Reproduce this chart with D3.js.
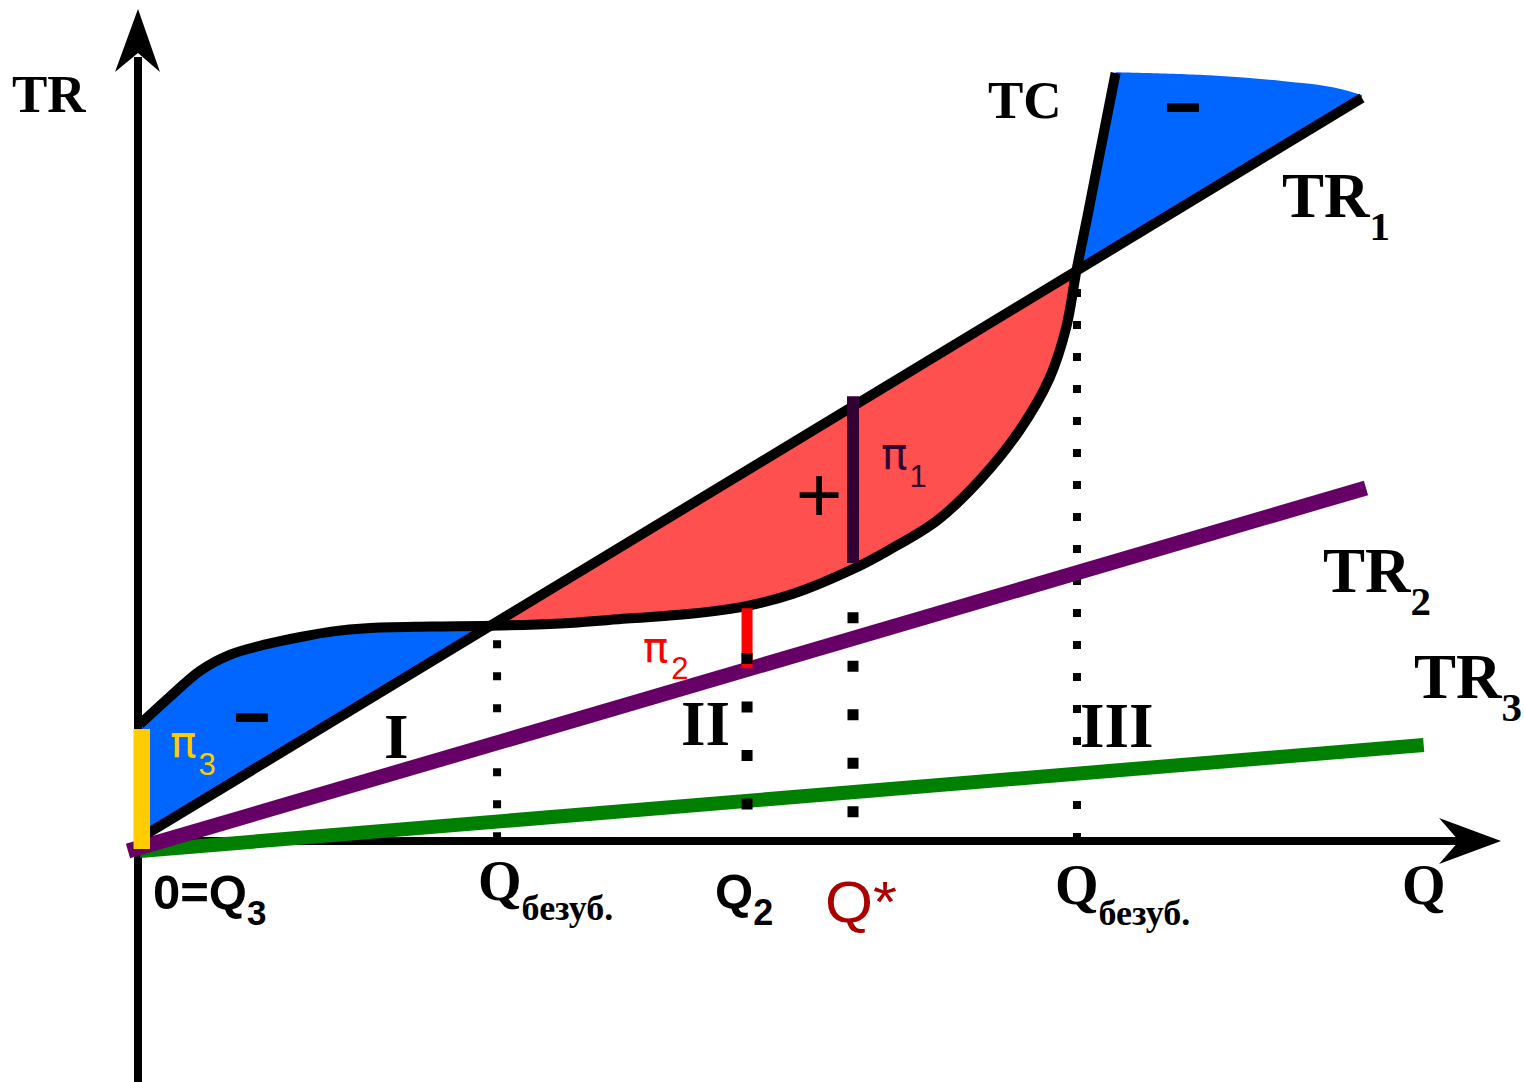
<!DOCTYPE html>
<html>
<head>
<meta charset="utf-8">
<script src="https://cdn.jsdelivr.net/npm/d3@7"></script>
<style>
  html, body { margin: 0; padding: 0; background: #fff; }
  svg { display: block; }
</style>
</head>
<body>
<svg id="chart" width="1524" height="1082"></svg>
<script>
// ---------------- DATA (chart units: Q along x, money along y) ----------------
// Total cost curve TC
const tcCurve = [
  [0.15,14.6],[2.5,18.1],[4.8,21.3],[7.1,23.3],[9.9,24.6],[12.5,25.5],[15.0,26.2],
  [17.6,26.6],[22.5,26.8],[27.1,26.9],[32.5,27.2],[37.6,27.8],[42.5,28.4],[46.9,29.4],
  [50.4,30.9],[55.0,34.0],[57.8,36.4],[61.5,40.1],[64.8,45.2],[67.8,51.3],[70.1,57.8],
  [71.4,64.2],[72.2,71.4],[73.0,77.8],[73.9,85.3],[75.2,96.0]
];
// upper edge of the right loss region (after TC ends)
const lossTopEdge = [[75.2,96.1],[82.7,95.7],[88.0,95.0],[92.0,94.2],[94.15,93.25]];
// revenue lines (two end points each)
const tr1 = [[0.54,0.75],[94.15,92.88]];
const tr2 = [[-0.77,-1.25],[94.46,44.13]];
const tr3 = [[0.15,-1.25],[98.9,12.0]];
// TC / TR1 crossings (break-even points)
const crossQ = [27.1, 72.2];
// dotted guide lines: Q position and top value
const guideQ   = [27.62, 46.85, 55.0, 72.23];
const guideTop = [25.1, 23.5, 28.6, 69.0];
const guideKind = ["fine", "coarse", "coarse", "fine"];
// profit / loss bars
const barNames = ["π1", "π2", "π3"];
const barQ     = [55.0, 46.85, 0.29];
const barFrom  = [34.75, 21.6, -1.0];
const barTo    = [55.6, 29.1, 14.0];
// text
const axisTitles = ["TR", "Q"];
const curveNames = ["TC", "TR", "TR", "TR"];
const curveSubs  = ["", "1", "2", "3"];
const zoneNames  = ["I", "II", "III"];
const qTickMain  = ["0=Q", "Q", "Q", "Q*", "Q"];
const qTickSub   = ["3", "безуб.", "2", "", "безуб."];
const signs      = ["-", "+", "-"];

// ---------------- SETUP ----------------
const svg = d3.select("#chart");
const x = d3.scaleLinear().domain([0, 100]).range([138, 1438]);
const y = d3.scaleLinear().domain([0, 100]).range([841, 41]);

const BLUE = "#0066ff", RED = "#ff5050", PURPLE = "#660066", GREEN = "#008000",
      GOLD = "#ffcc00", DARK = "#330033", QSTAR = "#aa0000";
const SERIF = "'Liberation Serif','Times New Roman',serif";
const SANS  = "'Liberation Sans',Arial,sans-serif";
const GREEK = "'DejaVu Sans','Liberation Sans',sans-serif";

const tr1At = q => tr1[0][1] + (q - tr1[0][0]) * (tr1[1][1] - tr1[0][1]) / (tr1[1][0] - tr1[0][0]);

const curve = d3.curveCatmullRom.alpha(0.5);
const straight = d3.line().x(d => x(d[0])).y(d => y(d[1]));
const smooth = d3.line().x(d => x(d[0])).y(d => y(d[1])).curve(curve);
const between = d3.area().x(d => x(d[0])).y0(d => y(tr1At(d[0]))).y1(d => y(d[1])).curve(curve);

// ---------------- FILLS ----------------
const defs = svg.append("defs");
function clipRect(id, q0, q1) {
  defs.append("clipPath").attr("id", id).append("rect")
    .attr("x", x(q0)).attr("y", 0).attr("width", x(q1) - x(q0)).attr("height", 1082);
}
clipRect("cLoss1", -1, crossQ[0]);
clipRect("cProfit", crossQ[0], crossQ[1]);

svg.append("path").attr("d", between(tcCurve)).attr("fill", BLUE).attr("clip-path", "url(#cLoss1)");
svg.append("path").attr("d", between(tcCurve)).attr("fill", RED).attr("clip-path", "url(#cProfit)");

// right loss region: TC (upper part) -> top edge -> back down TR1 to the crossing
const tcUpper = tcCurve.filter(d => d[0] >= crossQ[1]);
const upperPath = smooth(tcUpper) + smooth(lossTopEdge).replace(/^M/, "L") +
  `L${x(tr1[1][0])},${y(tr1[1][1])}L${x(crossQ[1])},${y(tr1At(crossQ[1]))}Z`;
svg.append("path").attr("d", upperPath).attr("fill", BLUE);

// ---------------- AXES ----------------
svg.append("line")
  .attr("x1", x(0)).attr("x2", x(0)).attr("y1", y(-31)).attr("y2", y(98))
  .attr("stroke", "#000").attr("stroke-width", 8);
const yTip = [x(0), y(104)];
svg.append("path")
  .attr("d", `M${yTip[0]},${yTip[1]} L${yTip[0] - 23},${yTip[1] + 63} L${yTip[0]},${yTip[1] + 44} L${yTip[0] + 22},${yTip[1] + 63} Z`)
  .attr("fill", "#000");

svg.append("line")
  .attr("x1", x(0) - 4).attr("x2", x(101.7)).attr("y1", y(0)).attr("y2", y(0))
  .attr("stroke", "#000").attr("stroke-width", 8);
const xTip = [x(104.85), y(0)];
svg.append("path")
  .attr("d", `M${xTip[0]},${xTip[1]} L${xTip[0] - 62},${xTip[1] - 23} L${xTip[0] - 42},${xTip[1]} L${xTip[0] - 62},${xTip[1] + 23} Z`)
  .attr("fill", "#000");

// ---------------- GUIDES (fine, under lines) ----------------
function guide(i) {
  const fine = guideKind[i] === "fine";
  svg.append("line")
    .attr("x1", x(guideQ[i])).attr("x2", x(guideQ[i]))
    .attr("y1", y(guideTop[i])).attr("y2", y(0))
    .attr("stroke", "#000")
    .attr("stroke-width", fine ? 8 : 11)
    .attr("stroke-dasharray", fine ? "8 24" : "11 37.5");
}
guideKind.forEach((k, i) => { if (k === "fine") guide(i); });

// ---------------- LINES ----------------
svg.append("path").attr("d", straight(tr3)).attr("fill", "none").attr("stroke", GREEN).attr("stroke-width", 14);
svg.append("path").attr("d", straight(tr2)).attr("fill", "none").attr("stroke", PURPLE).attr("stroke-width", 15);
svg.append("path").attr("d", straight(tr1)).attr("fill", "none").attr("stroke", "#000").attr("stroke-width", 10);
svg.append("path").attr("d", smooth(tcCurve)).attr("fill", "none").attr("stroke", "#000").attr("stroke-width", 10);

// ---------------- PROFIT BARS ----------------
const barColor = [DARK, "#ff0000", GOLD];
const barWidth = [12, 11, 16.5];
function bar(i) {
  svg.append("line")
    .attr("x1", x(barQ[i])).attr("x2", x(barQ[i]))
    .attr("y1", y(barFrom[i])).attr("y2", y(barTo[i]))
    .attr("stroke", barColor[i]).attr("stroke-width", barWidth[i]);
}
bar(1); bar(0);
// coarse guides on top
guideKind.forEach((k, i) => { if (k === "coarse") guide(i); });
bar(2);

// ---------------- TEXT ----------------
function label(xp, yp, main, sub, o) {
  const t = svg.append("text").attr("x", xp).attr("y", yp)
    .attr("font-family", o.family).attr("font-weight", o.weight || "normal")
    .attr("font-size", o.size).attr("fill", o.color || "#000");
  if (o.textLength) t.attr("textLength", o.textLength).attr("lengthAdjust", "spacingAndGlyphs");
  const m = t.append("tspan").text(main);
  if (o.mainFamily) m.attr("font-family", o.mainFamily);
  if (sub) {
    t.append("tspan").attr("font-size", o.subSize).attr("dy", o.subDy).attr("dx", o.subDx || 0).text(sub);
  }
  return t;
}

// axis titles
label(12, 112, axisTitles[0], "", { family: SERIF, weight: "bold", size: 53 });
label(1402, 904, axisTitles[1], "", { family: SERIF, weight: "bold", size: 56 });

// curve names
label(988, 118, curveNames[0], "", { family: SERIF, weight: "bold", size: 53 });
label(1282, 217, curveNames[1], curveSubs[1], { family: SERIF, weight: "bold", size: 63, subSize: 41, subDy: 23 });
label(1323, 592, curveNames[2], curveSubs[2], { family: SERIF, weight: "bold", size: 63, subSize: 41, subDy: 23 });
label(1414, 698, curveNames[3], curveSubs[3], { family: SERIF, weight: "bold", size: 63, subSize: 41, subDy: 23 });

// zones
label(384, 758, zoneNames[0], "", { family: SERIF, weight: "bold", size: 63 });
label(681, 745, zoneNames[1], "", { family: SERIF, weight: "bold", size: 63 });
label(1080, 747, zoneNames[2], "", { family: SERIF, weight: "bold", size: 63 });

// Q ticks
label(x(0) + 15, 909, qTickMain[0], qTickSub[0], { family: SANS, weight: "bold", size: 49, subSize: 35, subDy: 16 });
label(x(guideQ[0]) - 19, 900, qTickMain[1], qTickSub[1], { family: SERIF, weight: "bold", size: 56, subSize: 36, subDy: 20 });
label(x(guideQ[1]) - 32, 908, qTickMain[2], qTickSub[2], { family: SANS, weight: "bold", size: 49, subSize: 36, subDy: 17 });
label(x(guideQ[2]) - 28, 922, qTickMain[3], "", { family: SANS, size: 58, color: QSTAR, textLength: 72 });
label(x(guideQ[3]) - 22, 904, qTickMain[4], qTickSub[4], { family: SERIF, weight: "bold", size: 56, subSize: 36, subDy: 21 });

// profit labels
label(881, 469, barNames[0].slice(0, 1), barNames[0].slice(1), { family: SANS, mainFamily: GREEK, size: 44, color: DARK, subSize: 31, subDy: 18, subDx: 2 });
label(643, 662, barNames[1].slice(0, 1), barNames[1].slice(1), { family: SANS, mainFamily: GREEK, size: 42, color: "#ff0000", subSize: 31, subDy: 17, subDx: 3 });
label(170, 757, barNames[2].slice(0, 1), barNames[2].slice(1), { family: SANS, mainFamily: GREEK, size: 44, color: GOLD, subSize: 31, subDy: 18, subDx: 2 });

// signs
label(231, 736, signs[0], "", { family: SANS, weight: "bold", size: 72, textLength: 42 });
svg.append("text").attr("x", 819).attr("y", 522).attr("text-anchor", "middle")
  .attr("font-family", SANS).attr("font-size", 80).text(signs[1]);
label(1162, 126, signs[2], "", { family: SANS, weight: "bold", size: 72, textLength: 42 });
</script>
</body>
</html>
